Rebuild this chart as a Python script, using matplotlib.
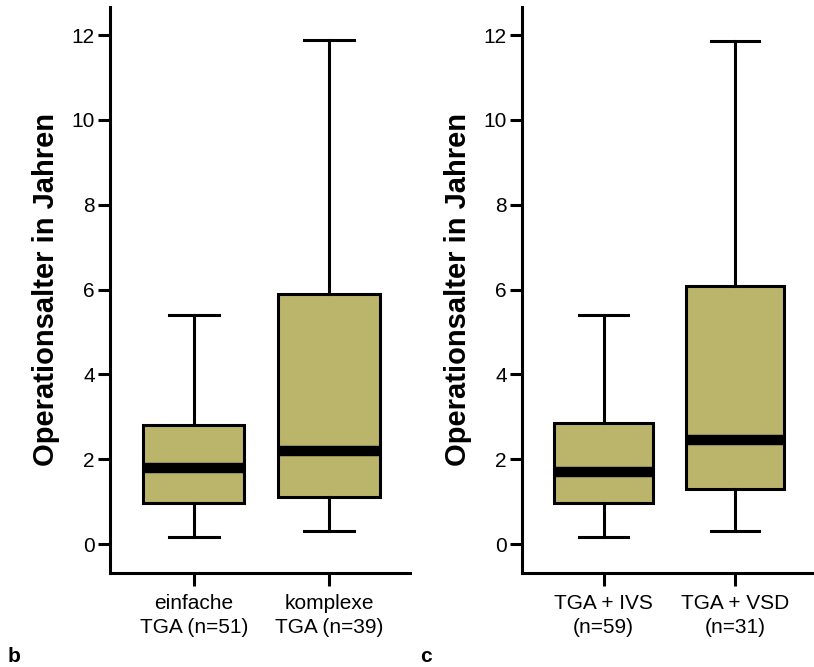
import matplotlib
matplotlib.use("Agg")
import matplotlib.pyplot as plt

plt.rcParams['font.family'] = ['Liberation Sans', 'DejaVu Sans']

# Panel b
labels_b = ["einfache\nTGA (n=51)", "komplexe\nTGA (n=39)"]
whislo_b = [0.18, 0.32]
q1_b = [0.98, 1.12]
med_b = [1.79, 2.19]
q3_b = [2.81, 5.89]
whishi_b = [5.40, 11.88]

# Panel c
labels_c = ["TGA + IVS\n(n=59)", "TGA + VSD\n(n=31)"]
whislo_c = [0.18, 0.32]
q1_c = [0.98, 1.31]
med_c = [1.71, 2.45]
q3_c = [2.85, 6.08]
whishi_c = [5.39, 11.87]

yticks = [0, 2, 4, 6, 8, 10, 12]
ylabel = "Operationsalter in Jahren"
fill = "#bbb46b"

W, H = 814, 667
fig = plt.figure(figsize=(W / 100, H / 100), dpi=100)

def make_stats(labels, lo, q1, med, q3, hi):
    return [dict(label=l, whislo=a, q1=b, med=c, q3=d, whishi=e, fliers=[])
            for l, a, b, c, d, e in zip(labels, lo, q1, med, q3, hi)]

def panel(rect, stats, letter, letter_x):
    ax = fig.add_axes(rect)
    ax.bxp(stats, positions=[1, 2], widths=0.75, patch_artist=True,
           showfliers=False,
           boxprops=dict(facecolor=fill, edgecolor="black", linewidth=2.2),
           medianprops=dict(color="black", linewidth=7.5, solid_capstyle="butt"),
           whiskerprops=dict(color="black", linewidth=2.2),
           capprops=dict(color="black", linewidth=2.2),
           capwidths=0.37)
    ax.set_xlim(0.38, 2.6)
    ax.set_ylim(-0.68, 12.66)
    ax.set_yticks(yticks)
    ax.set_yticklabels([str(t) for t in yticks], fontsize=15)
    ax.set_xticks([1, 2])
    ax.set_xticklabels([s["label"] for s in stats], fontsize=15, linespacing=1.35)
    for s in ["top", "right"]:
        ax.spines[s].set_visible(False)
    for s in ["left", "bottom"]:
        ax.spines[s].set_linewidth(2.2)
    ax.tick_params(axis="both", width=2.2, length=9)
    ax.tick_params(axis="y", pad=2)
    ax.tick_params(axis="x", pad=6)
    ax.set_ylabel(ylabel, fontsize=21, fontweight="bold", labelpad=8)
    fig.text(letter_x, 1 - 657 / H, letter, fontsize=15, fontweight="bold",
             ha="left", va="center")
    return ax

bot = 1 - 573 / H
top = 1 - 7 / H
panel([110 / W, bot, (410 - 110) / W, top - bot],
      make_stats(labels_b, whislo_b, q1_b, med_b, q3_b, whishi_b), "b", 8 / W)
panel([522 / W, bot, (814 - 522) / W, top - bot],
      make_stats(labels_c, whislo_c, q1_c, med_c, q3_c, whishi_c), "c", 420 / W)

fig.savefig("out.png", dpi=100)
